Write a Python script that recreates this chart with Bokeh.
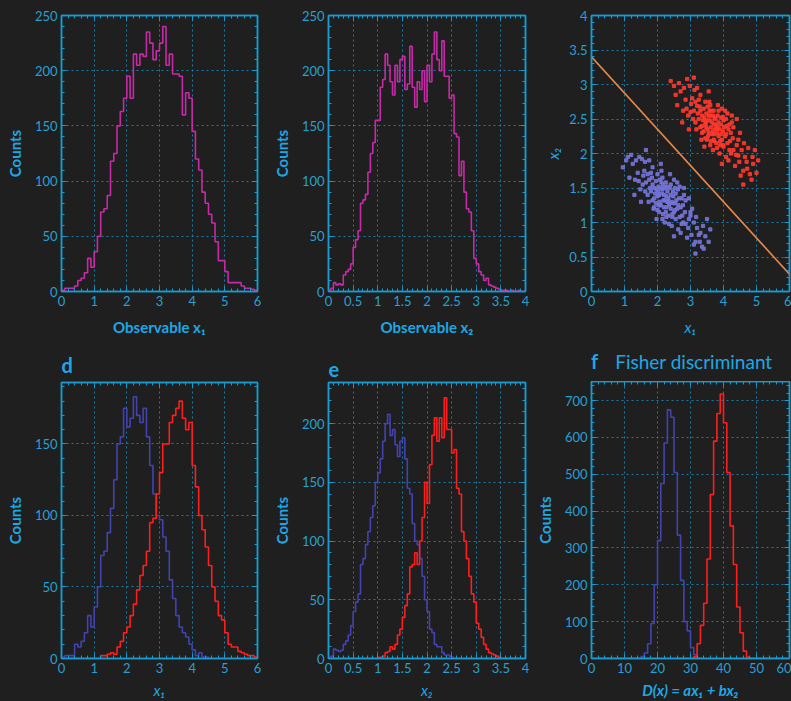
import numpy as np
from bokeh.plotting import figure
from bokeh.layouts import row, column
from bokeh.models import (Range1d, LinearAxis, SingleIntervalTicker,
                          CustomJSTickFormatter, Div)
from bokeh.embed import file_html
from bokeh.resources import INLINE

# ---------------- data ----------------
# panel a: observable x1, all events, bins of 0.1 on [0, 6]
x1_all = [1, 3, 3, 3, 5, 10, 12, 17, 30, 22,
          36, 50, 72, 75, 87, 118, 125, 150, 163, 175,
          195, 175, 215, 205, 215, 213, 235, 225, 210, 218,
          225, 240, 205, 215, 197, 197, 195, 160, 180, 175,
          145, 120, 110, 90, 80, 70, 62, 45, 28, 28,
          18, 8, 8, 8, 8, 5, 3, 3, 2, 1]
# panel b: observable x2, all events, bins of 0.05 on [0, 4]
x2_all = [1, 3, 8, 6, 7, 6, 15, 18, 20, 25,
          40, 47, 55, 80, 83, 88, 108, 125, 135, 155,
          155, 185, 192, 215, 205, 190, 178, 205, 190, 210,
          213, 183, 188, 222, 185, 167, 190, 183, 200, 172,
          205, 190, 215, 235, 210, 200, 227, 195, 195, 175,
          178, 143, 140, 105, 118, 90, 75, 72, 55, 30,
          25, 18, 15, 10, 12, 6, 5, 4, 3, 2,
          1, 1, 1, 0, 1, 0, 0, 1, 0, 0]
# panel d: x1 by class, bins of 0.1 on [0, 6]
x1_blue = [1, 2, 2, 2, 10, 8, 12, 18, 30, 22,
           36, 50, 72, 75, 88, 105, 125, 150, 155, 175,
           162, 168, 183, 170, 165, 175, 155, 135, 115, 100,
           97, 85, 75, 55, 42, 30, 22, 18, 15, 10,
           6, 2, 4, 1, 1, 0, 0, 0, 0, 0,
           0, 0, 0, 0, 0, 0, 0, 0, 0, 0]
x1_red = [0, 0, 0, 0, 0, 0, 0, 0, 0, 0,
          0, 0, 2, 2, 3, 4, 3, 8, 12, 18,
          22, 30, 38, 48, 58, 65, 75, 95, 98, 115,
          130, 150, 150, 165, 170, 175, 180, 168, 160, 165,
          135, 120, 100, 90, 78, 65, 50, 40, 30, 27,
          18, 10, 8, 8, 5, 4, 3, 2, 2, 1]
# panel e: x2 by class, bins of 0.05 on [0, 4]
x2_blue = [1, 2, 8, 7, 6, 7, 12, 15, 20, 28,
           40, 48, 55, 80, 85, 97, 108, 120, 130, 150,
           158, 170, 185, 200, 208, 190, 195, 182, 172, 185,
           188, 170, 145, 140, 115, 100, 97, 85, 70, 50,
           40, 25, 22, 12, 10, 10, 5, 3, 3, 2,
           1, 0, 0, 0, 0, 0, 0, 0, 0, 0,
           0, 0, 0, 0, 0, 0, 0, 0, 0, 0,
           0, 0, 0, 0, 0, 0, 0, 0, 0, 0]
x2_red = [0, 0, 0, 0, 0, 0, 0, 0, 0, 0,
          0, 0, 0, 0, 0, 0, 0, 0, 0, 0,
          1, 1, 2, 5, 6, 10, 8, 12, 20, 25,
          35, 45, 55, 78, 80, 90, 80, 100, 120, 150,
          132, 165, 190, 205, 185, 205, 188, 222, 195, 195,
          175, 178, 145, 140, 108, 100, 85, 70, 55, 48,
          30, 25, 18, 12, 8, 5, 4, 3, 2, 1,
          0, 0, 0, 0, 0, 0, 0, 0, 0, 0]
# panel f: Fisher discriminant D(x), bins of 1 on [0, 60]
fisher_blue = [0] * 15 + [5, 15, 40, 95, 200, 320, 475, 585, 675, 655,
                          505, 335, 212, 100, 75, 30, 10, 2] + [0] * 27
fisher_red = [0] * 31 + [5, 40, 90, 150, 270, 445, 590, 665, 718, 640,
                         505, 360, 255, 140, 70, 20, 3] + [0] * 12
# panel c: scatter of the two classes and the separating line
red_x = [3.77, 3.20, 4.45, 3.60, 3.98, 2.93, 4.75, 3.90, 3.35, 4.20,
         3.55, 3.05, 4.10, 3.70, 2.80, 4.60, 3.45, 3.85, 4.30, 3.15,
         3.62, 3.40, 4.00, 3.75, 2.95, 4.50, 3.50, 3.30, 4.15, 3.80,
         2.60, 4.90, 3.58, 3.92, 3.25, 4.40, 3.68, 3.10, 4.25, 3.88,
         3.45, 3.72, 4.05, 3.35, 4.65, 2.85, 3.95, 3.52, 4.35, 3.20,
         3.65, 4.12, 3.00, 4.55, 3.78, 3.42, 3.98, 3.28, 4.22, 3.60,
         2.70, 4.80, 3.85, 3.48, 4.08, 3.15, 4.45, 3.70, 3.30, 4.00,
         3.55, 3.90, 2.98, 4.62, 3.38, 3.82, 4.18, 3.62, 3.08, 4.30,
         3.75, 3.45, 4.05, 3.25, 4.70, 3.58, 3.95, 2.88, 4.38, 3.68,
         3.18, 4.25, 3.52, 3.88, 4.12, 3.35, 3.72, 4.48, 3.02, 3.80,
         2.55, 5.00, 4.95, 2.40, 3.10, 4.60, 3.55, 4.40, 2.75, 3.95,
         4.15, 3.40, 3.65, 3.85, 3.50, 3.78, 3.60, 4.02, 3.30, 3.92,
         4.28, 3.48, 3.72, 4.08, 3.22, 3.62, 3.98, 3.42, 4.18, 3.82,
         2.50, 2.65, 4.85, 5.05, 4.72, 2.90, 3.12, 4.52, 4.88, 2.78,
         3.33, 3.57, 3.83, 4.07, 3.67, 3.93, 3.47, 4.23, 3.73, 3.53]
red_y = [2.36, 2.69, 1.97, 2.12, 2.53, 2.55, 2.08, 2.18, 2.30, 2.18,
         2.55, 2.80, 2.40, 2.20, 2.95, 1.75, 2.42, 2.62, 2.05, 2.45,
         2.38, 2.65, 2.10, 2.50, 2.35, 2.30, 2.20, 2.85, 1.90, 2.30,
         2.70, 1.85, 2.62, 2.42, 2.50, 2.12, 2.05, 2.62, 2.45, 2.00,
         2.75, 2.28, 2.25, 2.55, 1.95, 2.78, 2.65, 2.35, 1.82, 2.95,
         2.45, 2.58, 2.60, 2.05, 2.15, 2.10, 2.32, 2.68, 2.30, 2.70,
         2.90, 1.70, 2.45, 2.58, 1.95, 2.75, 2.20, 2.62, 2.38, 2.48,
         2.30, 2.12, 2.98, 2.15, 2.48, 2.55, 2.05, 2.18, 2.50, 2.38,
         2.35, 2.22, 2.62, 2.78, 1.88, 2.48, 2.20, 2.65, 1.98, 2.55,
         2.35, 2.55, 2.68, 2.35, 2.15, 2.40, 2.42, 1.88, 2.72, 2.08,
         2.85, 1.72, 2.05, 3.05, 3.10, 1.55, 2.90, 2.50, 2.45, 1.85,
         2.35, 2.32, 2.28, 2.25, 2.48, 2.42, 2.55, 2.38, 2.62, 2.52,
         2.22, 2.38, 2.18, 2.28, 2.58, 2.62, 2.12, 2.52, 2.42, 2.38,
         2.98, 3.02, 1.62, 1.90, 1.78, 3.08, 2.92, 1.68, 1.95, 2.62,
         2.20, 2.75, 2.70, 2.50, 2.32, 2.28, 2.45, 2.00, 2.52, 2.25]
blue_x = [2.32, 1.75, 3.00, 2.15, 2.53, 1.48, 3.30, 2.45, 1.90, 2.75,
          2.10, 1.60, 2.65, 2.25, 1.35, 3.15, 2.00, 2.40, 2.85, 1.70,
          2.18, 1.95, 2.55, 2.30, 1.50, 3.05, 2.05, 1.85, 2.70, 2.35,
          1.15, 3.45, 2.12, 2.48, 1.80, 2.95, 2.22, 1.65, 2.80, 2.43,
          2.00, 2.27, 2.60, 1.90, 3.20, 1.40, 2.50, 2.07, 2.90, 1.75,
          2.20, 2.67, 1.55, 3.10, 2.33, 1.97, 2.53, 1.83, 2.77, 2.15,
          1.25, 3.35, 2.40, 2.03, 2.63, 1.70, 3.00, 2.25, 1.85, 2.55,
          2.10, 2.45, 1.53, 3.17, 1.93, 2.37, 2.73, 2.17, 1.63, 2.85,
          2.30, 2.00, 2.60, 1.80, 3.25, 2.13, 2.50, 1.43, 2.93, 2.23,
          1.73, 2.80, 2.07, 2.43, 2.67, 1.90, 2.27, 3.03, 1.57, 2.35,
          1.10, 3.55, 3.50, 0.95, 1.65, 3.15, 2.10, 2.95, 1.30, 2.50,
          2.70, 1.95, 2.20, 2.40, 2.05, 2.33, 2.15, 2.57, 1.85, 2.47,
          2.83, 2.03, 2.27, 2.63, 1.77, 2.17, 2.53, 1.97, 2.73, 2.37,
          1.05, 1.20, 3.40, 3.60, 3.28, 1.45, 1.62, 3.10, 3.38, 1.32,
          1.88, 2.12, 2.38, 2.62, 2.22, 2.48, 2.02, 2.78, 2.28, 2.08]
blue_y = [1.30, 1.62, 1.10, 1.05, 1.50, 1.48, 0.85, 1.12, 1.22, 1.10,
          1.50, 1.75, 1.35, 1.15, 1.90, 0.72, 1.38, 1.55, 0.98, 1.40,
          1.32, 1.60, 1.05, 1.45, 1.30, 1.20, 1.15, 1.80, 0.85, 1.25,
          1.65, 0.80, 1.58, 1.38, 1.45, 1.05, 1.00, 1.58, 1.40, 0.95,
          1.70, 1.22, 1.20, 1.50, 0.92, 1.72, 1.62, 1.30, 0.78, 1.90,
          1.40, 1.52, 1.55, 1.00, 1.10, 1.05, 1.28, 1.65, 1.25, 1.65,
          1.85, 0.65, 1.40, 1.52, 0.90, 1.70, 1.15, 1.58, 1.32, 1.42,
          1.25, 1.08, 1.92, 1.08, 1.42, 1.50, 0.98, 1.12, 1.45, 1.32,
          1.30, 1.18, 1.58, 1.72, 0.82, 1.42, 1.15, 1.60, 0.92, 1.50,
          1.30, 1.50, 1.62, 1.30, 1.08, 1.35, 1.38, 0.82, 1.68, 0.98,
          1.95, 0.72, 1.05, 1.80, 2.05, 0.55, 1.85, 1.35, 1.40, 0.80,
          1.22, 1.28, 1.22, 1.20, 1.40, 1.35, 1.48, 1.32, 1.55, 1.45,
          1.15, 1.25, 1.08, 1.25, 1.50, 1.55, 1.18, 1.48, 1.35, 1.28,
          1.90, 1.98, 0.62, 0.90, 0.72, 1.95, 1.88, 0.68, 0.95, 1.62,
          1.20, 1.75, 1.70, 1.48, 1.32, 1.28, 1.45, 1.00, 1.52, 1.25]
line_x = [0.0, 6.0]
line_y = [3.4, 0.25]

# ---------------- style ----------------
BG = "#1f1f1f"
AX = "#1b9ad0"
TXT = "#2a9fd0"
LBL = "#1fa7e3"
GRID = "#1a86b6"
FONT = "Lato"
MAG = "#c72aa8"
BLUE = "#4343b0"
RED = "#ff1e1e"


def fmt():
    return CustomJSTickFormatter(code="return (Math.round(tick*1000)/1000).toString();")


def blank():
    return CustomJSTickFormatter(code="return '';")


def make(width, height, lb, rb, tb, bb, xr, yr, xint, yint,
         xlab, ylab, xstyle="bold", ystyle="bold", xstand=8, ystand=8, title=None):
    p = figure(width=width, height=height, x_range=Range1d(*xr), y_range=Range1d(*yr),
               output_backend="svg", toolbar_location=None,
               min_border_left=lb, min_border_right=rb, min_border_top=tb, min_border_bottom=bb,
               background_fill_color=BG, border_fill_color=BG,
               outline_line_color=AX, outline_line_width=1.5)
    xa = p.xaxis[0]
    ya = p.yaxis[0]
    xt = SingleIntervalTicker(interval=xint, num_minor_ticks=5)
    yt = SingleIntervalTicker(interval=yint, num_minor_ticks=5)
    xa.ticker = xt
    ya.ticker = yt
    xa.formatter = fmt()
    ya.formatter = fmt()
    p.xgrid.ticker = xt
    p.ygrid.ticker = yt
    for g in (p.xgrid, p.ygrid):
        g.grid_line_color = GRID
        g.grid_line_dash = "2 3"
        g.grid_line_width = 1
        g.grid_line_alpha = 0.9
    top = LinearAxis(ticker=xt, formatter=blank())
    right = LinearAxis(ticker=yt, formatter=blank())
    p.add_layout(top, "above")
    p.add_layout(right, "right")
    for ax in (xa, ya, top, right):
        ax.axis_line_color = AX
        ax.axis_line_width = 1.5
        ax.major_tick_in = 5
        ax.major_tick_out = 0
        ax.minor_tick_in = 3
        ax.minor_tick_out = 0
        ax.major_tick_line_color = AX
        ax.minor_tick_line_color = AX
        ax.major_label_text_color = TXT
        ax.major_label_text_font = FONT
        ax.major_label_text_font_size = "13px"
        ax.major_label_standoff = 4
    for ax in (top, right):
        ax.major_label_text_font_size = "0px"
        ax.major_label_standoff = 0
    xa.axis_label = xlab
    ya.axis_label = ylab
    for ax, st, sd in ((xa, xstyle, xstand), (ya, ystyle, ystand)):
        ax.axis_label_text_color = LBL
        ax.axis_label_text_font = FONT
        ax.axis_label_text_font_size = "15px"
        ax.axis_label_text_font_style = st
        ax.axis_label_standoff = sd
    if title is not None:
        p.title.text = title
        p.title.text_color = LBL
        p.title.text_font = FONT
        p.title.text_font_size = "20px"
        p.title.text_font_style = "bold"
        p.title.align = "left"
        p.title.offset = 0
        p.title.standoff = 11
    return p


def hist(p, lo, hi, counts, color, w=1.6):
    n = len(counts)
    edges = np.linspace(lo, hi, n + 1)
    ys = list(counts) + [counts[-1]]
    p.step(x=edges, y=ys, mode="after", line_color=color, line_width=w)


# ---------------- top row ----------------
H1 = 345
pa = make(265, H1, 61, 8, 15, 54, (0, 6), (0, 250), 1, 50,
          "Observable x\u2081", "Counts", xstand=9)
hist(pa, 0, 6, x1_all, MAG)

pb = make(265, H1, 63, 5, 15, 54, (0, 4), (0, 250), 0.5, 50,
          "Observable x\u2082", "Counts", xstand=9)
hist(pb, 0, 4, x2_all, MAG)

pc = make(261, H1, 61, 2, 15, 54, (0, 6), (0, 4), 1, 0.5,
          "x\u2081", "x\u2082", xstyle="italic", ystyle="italic", xstand=9, ystand=4)
pc.scatter(blue_x, blue_y, marker="square", size=3.2, color="#7474d8", alpha=0.9)
pc.scatter(red_x, red_y, marker="square", size=3.2, color="#ff3a2e", alpha=0.9)
pc.line(line_x, line_y, line_color="#e8874a", line_width=1.6)

# ---------------- bottom row ----------------
H2 = 356
pd_ = make(265, H2, 61, 8, 36, 43, (0, 6), (0, 193), 1, 50,
           "x\u2081", "Counts", xstyle="italic", xstand=5, title="d")
hist(pd_, 0, 6, x1_blue, BLUE)
hist(pd_, 0, 6, x1_red, RED)

pe = make(265, H2, 63, 5, 36, 43, (0, 4), (0, 235), 0.5, 50,
          "x\u2082", "Counts", xstyle="italic", xstand=5, title="e")
hist(pe, 0, 4, x2_blue, BLUE)
hist(pe, 0, 4, x2_red, RED)

pf = make(261, H2 - 36, 61, 2, 0, 43, (0, 60), (0, 752), 10, 100,
          "D(x) = ax\u2081 + bx\u2082", "Counts", xstyle="bold italic", xstand=5)
hist(pf, 0, 60, fisher_blue, BLUE)
hist(pf, 0, 60, fisher_red, RED)

head_f = Div(
    text=('<div style="margin-left:61px;padding-top:6px;line-height:1;color:%s;'
          'font-family:Lato;white-space:nowrap">'
          '<span style="font-weight:bold;font-size:20px">f</span>'
          '<span style="font-size:19px;margin-left:17px">Fisher discriminant</span></div>') % LBL,
    width=261, height=36, styles={"background-color": BG, "margin": "0", "padding": "0"})

layout = column(row(pa, pb, pc), row(pd_, pe, column(head_f, pf)),
                styles={"background-color": BG})
open("out.html", "w").write(file_html(layout, INLINE))
